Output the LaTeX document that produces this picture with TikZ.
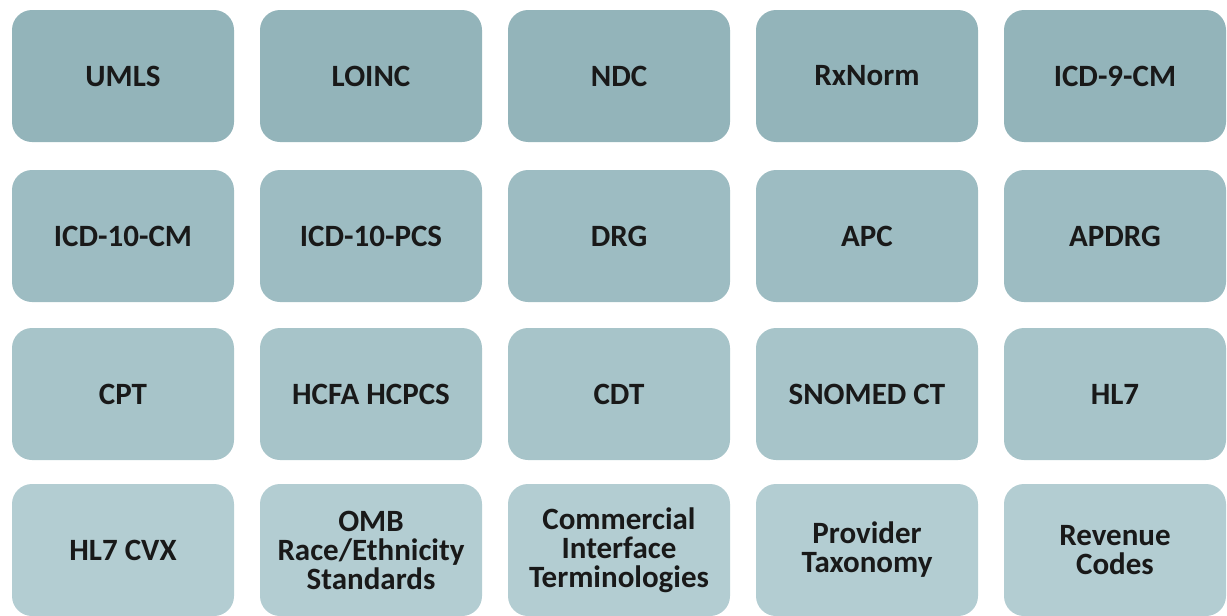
\documentclass[tikz,border=0pt]{standalone}
\usepackage{fontspec}
\setmainfont{Carlito}
\definecolor{tealA}{HTML}{93B4BA}
\definecolor{tealB}{HTML}{9DBCC2}
\definecolor{tealC}{HTML}{A7C4C9}
\definecolor{tealD}{HTML}{B3CDD2}
\tikzset{
  term/.style={rounded corners=20pt, minimum width=222pt, minimum height=132pt,
    align=center, font=\fontsize{31}{29}\selectfont\bfseries, text=black!90,
    inner sep=0pt},
  rowA/.style={term, fill=tealA},
  rowB/.style={term, fill=tealB},
  rowC/.style={term, fill=tealC},
  rowD/.style={term, fill=tealD},
}
\begin{document}
\begin{tikzpicture}[x=1pt,y=-1pt]
        \useasboundingbox (0,0) rectangle (1227,616);
        % first row
        \node[rowA] (umls) at (123,76) {UMLS};
        \node[rowA] (loinc) at (371,76) {LOINC};
        \node[rowA] (ndc) at (619,76) {NDC};
        \node[rowA] (rxnorm) at (867,76) {RxNorm};
        \node[rowA] (icdnine) at (1115,76) {ICD-9-CM};
        % second row
        \node[rowB] (icdtencm) at (123,236) {ICD-10-CM};
        \node[rowB] (icdtenpcs) at (371,236) {ICD-10-PCS};
        \node[rowB] (drg) at (619,236) {DRG};
        \node[rowB] (apc) at (867,236) {APC};
        \node[rowB] (apdrg) at (1115,236) {APDRG};
        % third row
        \node[rowC] (cpt) at (123,394) {CPT};
        \node[rowC] (hcpcs) at (371,394) {HCFA HCPCS};
        \node[rowC] (cdt) at (619,394) {CDT};
        \node[rowC] (snomed) at (867,394) {SNOMED CT};
        \node[rowC] (hlseven) at (1115,394) {HL7};
        % last row
        \node[rowD] (cvx) at (123,550) {HL7 CVX};
        \node[rowD] (omb) at (371,550) {OMB\\Race/Ethnicity\\Standards};
        \node[rowD] (cit) at (619,550) {Commercial\\Interface\\Terminologies};
        \node[rowD] (taxonomy) at (867,550) {Provider\\Taxonomy};
        \node[rowD] (revenue) at (1115,550) {Revenue\\Codes};
    \end{tikzpicture}
\end{document}
